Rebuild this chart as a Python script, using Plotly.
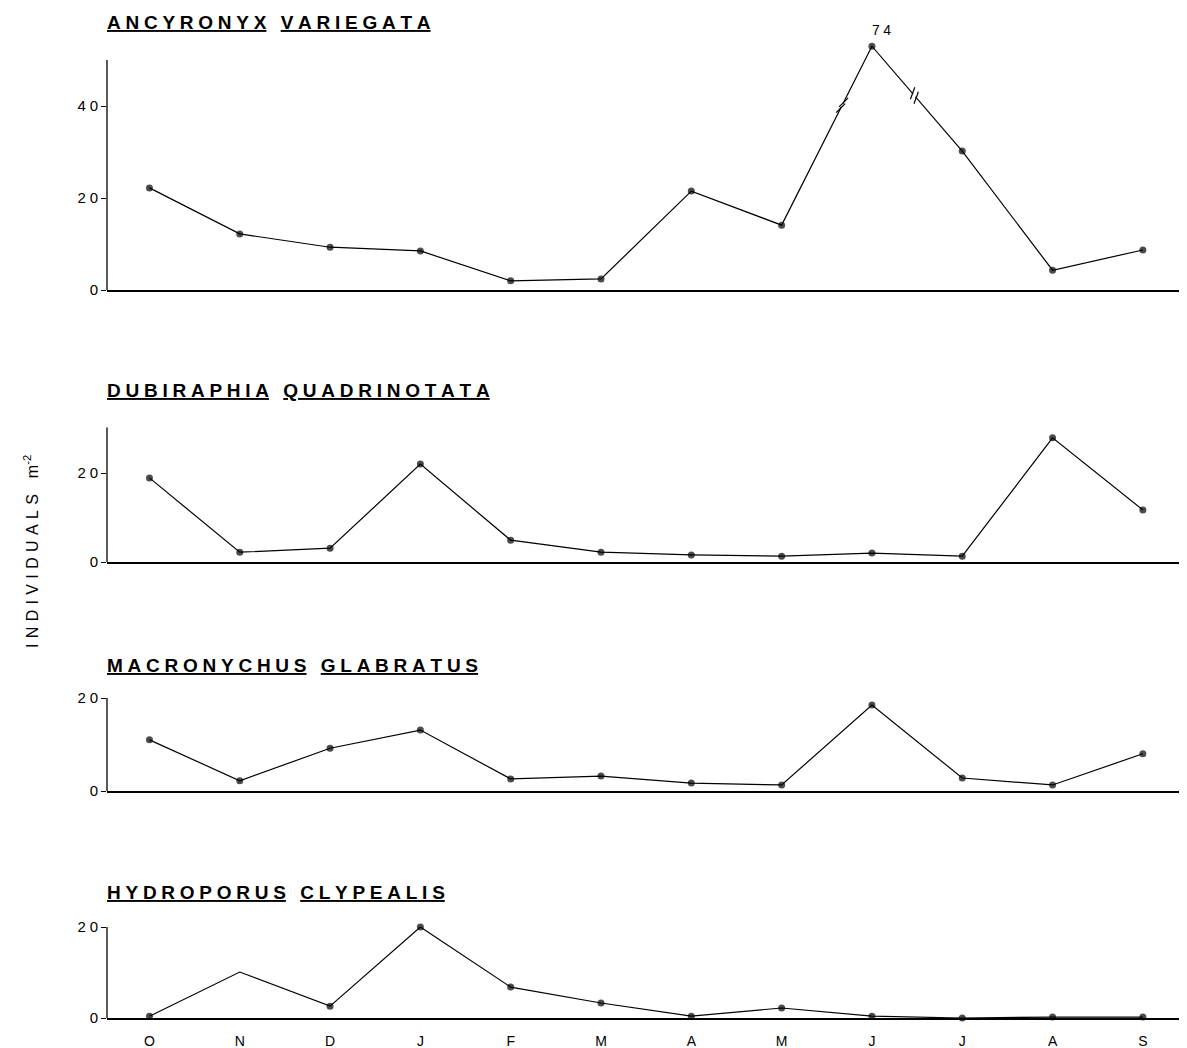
import plotly.graph_objects as go

# ---------------- data ----------------
months = ["O", "N", "D", "J", "F", "M", "A", "M", "J", "J", "A", "S"]

species = ["ANCYRONYX VARIEGATA", "DUBIRAPHIA QUADRINOTATA",
           "MACRONYCHUS GLABRATUS", "HYDROPORUS CLYPEALIS"]

ancyronyx = [22.2, 12.2, 9.3, 8.5, 2.0, 2.4, 21.5, 14.1, 74, 30.2, 4.3, 8.7]
dubiraphia = [18.9, 2.2, 3.1, 22.0, 4.9, 2.2, 1.6, 1.3, 2.0, 1.3, 27.9, 11.7]
macronychus = [11.0, 2.2, 9.2, 13.1, 2.6, 3.2, 1.7, 1.3, 18.5, 2.8, 1.3, 8.0]
hydroporus = [0.4, 10.1, 2.6, 20.0, 6.8, 3.3, 0.4, 2.2, 0.4, 0.0, 0.2, 0.2]

# broken axis: value 74 is drawn at this height on the 0-50 scale
break_plot_value = 53.0

y_ticks = [[0, 20, 40], [0, 20], [0, 20], [0, 20]]
y_axis_top = [50, 30.3, 20, 20]      # where each drawn y-axis line ends
y_ranges = [[0, 56], [0, 30.3], [0, 20], [0, 20]]

series = [ancyronyx, dubiraphia, macronychus, hydroporus]

# ---------------- layout helpers ----------------
W, H = 1187, 1048
OFF = 8  # page body margin
panel_zero = [290, 562, 791, 1018]
panel_scale = [4.6, 4.45, 4.65, 4.55]
title_px = [22, 390, 665, 892]
x_left_px, x_right_px = 107, 1179
x_range = [-0.47, 11.40]

SP = "\u2005"
FONT = "Liberation Sans, Arial, Helvetica"


def px_to_paper_y(py):
    return 1 - (py - OFF) / H


def px_to_paper_x(px):
    return (px - OFF) / W


fig = go.Figure()

for i, vals in enumerate(series):
    n = i + 1
    xa = "x" if n == 1 else f"x{n}"
    ya = "y" if n == 1 else f"y{n}"
    plot_vals = list(vals)
    if i == 0:
        idx = vals.index(max(vals))
        plot_vals[idx] = break_plot_value
    sizes = [7] * len(vals)
    if i == 3:
        sizes[1] = 0  # no dot drawn at N in the original
    fig.add_trace(go.Scatter(
        x=list(range(len(months))), y=plot_vals, xaxis=xa, yaxis=ya,
        mode="lines+markers",
        line=dict(color="black", width=1.2),
        marker=dict(color="black", size=sizes, line=dict(width=0)),
        cliponaxis=False, showlegend=False, hoverinfo="skip"))

    zero = panel_zero[i]
    top = zero - y_ranges[i][1] * panel_scale[i]
    ydom = [px_to_paper_y(zero), px_to_paper_y(top)]
    xdom = [px_to_paper_x(x_left_px), px_to_paper_x(x_right_px)]
    last = (i == 3)
    fig.layout[("xaxis" if n == 1 else f"xaxis{n}")] = dict(
        domain=xdom, range=x_range, anchor=ya, automargin=False,
        showline=True, linecolor="black", linewidth=1.6,
        showgrid=False, zeroline=False,
        tickmode="array", tickvals=list(range(len(months))),
        ticktext=months if last else [""] * len(months),
        ticks="outside" if last else "", ticklen=9,
        tickcolor="rgba(0,0,0,0)",
        tickfont=dict(family=FONT, size=14, color="black"),
        fixedrange=True)
    fig.layout[("yaxis" if n == 1 else f"yaxis{n}")] = dict(
        domain=ydom, range=y_ranges[i], anchor=xa, automargin=False,
        showline=False, showgrid=False, zeroline=False,
        tickmode="array", tickvals=y_ticks[i],
        ticktext=["\u2005".join(list(str(t))) for t in y_ticks[i]],
        ticks="outside", ticklen=5, tickcolor="black", tickwidth=1.2,
        tickfont=dict(family=FONT, size=15, color="black"),
        fixedrange=True)
    # vertical axis line (stops at the axis top, not at the range top)
    fig.add_shape(type="line", xref="paper", yref=ya,
                  x0=xdom[0], x1=xdom[0], y0=0, y1=y_axis_top[i],
                  line=dict(color="black", width=1.3))

    words = species[i].split(" ")
    title = (SP + "\u2002").join(f"<u>{SP.join(list(w))}</u>" for w in words)
    fig.add_annotation(
        xref="paper", yref="paper", x=px_to_paper_x(x_left_px - 2),
        y=px_to_paper_y(title_px[i]),
        xanchor="left", yanchor="middle", showarrow=False, text=title,
        font=dict(family=FONT, size=19, color="black", weight="bold"))

# label for the broken peak value
peak_idx = ancyronyx.index(max(ancyronyx))
fig.add_annotation(
    xref="x", yref="y", x=peak_idx, y=break_plot_value,
    xshift=10, yshift=16, showarrow=False,
    text="\u2005".join(list(str(int(max(ancyronyx))))),
    font=dict(family=FONT, size=14, color="black"))

# break marks on the two segments adjacent to the peak
# (segment, fraction along it, slash half-vector px, separation half-vector px)
breaks = [((peak_idx - 1, peak_idx), 0.67, (4.5, 4.5), (1.5, 2.9)),
          ((peak_idx, peak_idx + 1), 0.47, (2.2, 6.0), (1.8, -2.2))]
for (a, b), frac, (hx, hy), (sx, sy) in breaks:
    ya0 = break_plot_value if a == peak_idx else ancyronyx[a]
    yb0 = break_plot_value if b == peak_idx else ancyronyx[b]
    xm = a + (b - a) * frac
    ym = ya0 + (yb0 - ya0) * frac
    # small gap in the line between the two slashes
    fig.add_shape(type="line", xref="x", yref="y",
                  xsizemode="pixel", ysizemode="pixel",
                  xanchor=xm, yanchor=ym,
                  x0=-sx * 0.6, x1=sx * 0.6, y0=-sy * 0.6, y1=sy * 0.6,
                  line=dict(color="white", width=3))
    for s in (-1, 1):
        fig.add_shape(type="line", xref="x", yref="y",
                      xsizemode="pixel", ysizemode="pixel",
                      xanchor=xm, yanchor=ym,
                      x0=s * sx - hx, x1=s * sx + hx,
                      y0=s * sy - hy, y1=s * sy + hy,
                      line=dict(color="black", width=1.2))

# y-axis title
ylabel = "\u2004".join(list("INDIVIDUALS")) + "\u2002\u2002" + "m<sup>-2</sup>"
fig.add_annotation(
    xref="paper", yref="paper", x=px_to_paper_x(31), y=px_to_paper_y(552),
    xanchor="center", yanchor="middle", textangle=-90, showarrow=False,
    text=ylabel,
    font=dict(family=FONT, size=16, color="black"))

fig.update_layout(
    template="none",
    width=W, height=H, margin=dict(l=0, r=0, t=0, b=0, pad=0),
    paper_bgcolor="white", plot_bgcolor="white")

fig.write_html("out.html")
